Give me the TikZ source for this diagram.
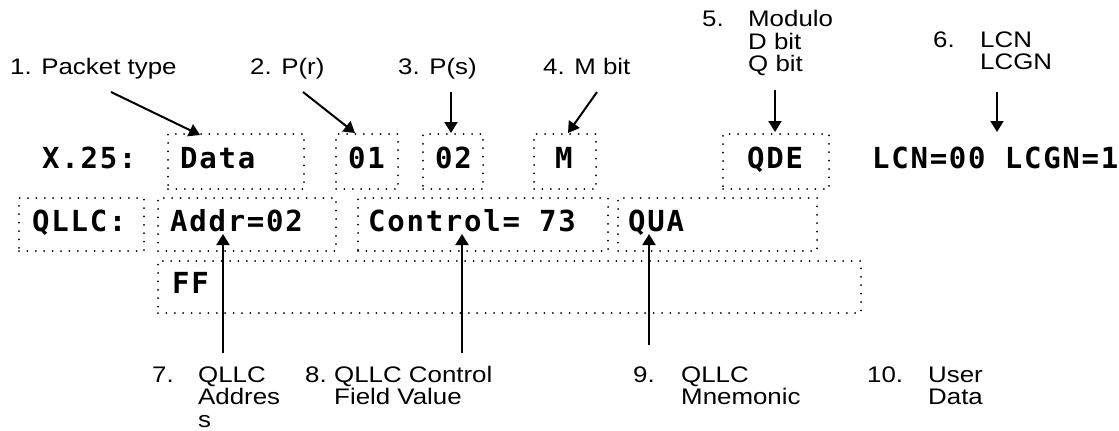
\documentclass[tikz,border=0pt]{standalone}
\usepackage{fontspec}
\setmainfont{Liberation Sans}[FakeStretch=1.15]
\newfontfamily\monob{DejaVu Sans Mono}[LetterSpace=6]
\usetikzlibrary{arrows.meta}
\begin{document}
\begin{tikzpicture}[x=1pt,y=-1pt,
  box/.style={draw, line width=2pt, dash pattern=on 0pt off 8.4pt, line cap=round, inner sep=0pt, anchor=north west},
  mono/.style={font=\monob\bfseries\fontsize{29}{29}\selectfont, inner sep=0pt, anchor=base west},
  lab/.style={font=\fontsize{22.5}{22.5}\selectfont, inner sep=0pt, anchor=base west},
  arr/.style={line width=2pt, -{Triangle[length=11pt,width=13pt]}}]
\useasboundingbox (0,0) rectangle (1119,431);
% boxes, X.25 row
\node[box, minimum width=136pt, minimum height=55pt] (bdata) at (167,133) {};
\node[box, minimum width=62pt, minimum height=55pt] (b01) at (335,133) {};
\node[box, minimum width=60pt, minimum height=55pt] (b02) at (422,133) {};
\node[box, minimum width=62pt, minimum height=55pt] (bm) at (533,133) {};
\node[box, minimum width=106pt, minimum height=55pt] (bqde) at (722,133) {};
% QLLC row
\node[box, minimum width=125pt, minimum height=53pt] (bqllc) at (18,197) {};
\node[box, minimum width=178pt, minimum height=53pt] (baddr) at (157,197) {};
\node[box, minimum width=250pt, minimum height=53pt] (bctrl) at (357,197) {};
\node[box, minimum width=199pt, minimum height=53pt] (bqua) at (617,197) {};
% FF row
\node[box, minimum width=703pt, minimum height=52pt] (bff) at (157,260) {};
% mono texts
\node[mono] (tx25) at (42,168) {X.25:};
\node[mono] (tdata) at (180,168) {Data};
\node[mono] (t01) at (348,168) {01};
\node[mono] (t02) at (435,168) {02};
\node[mono] (tm) at (555,168) {M};
\node[mono] (tqde) at (747,168) {QDE};
\node[mono] (tlcn) at (872,168) {LCN=00 LCGN=1};
\node[mono] (tqllc) at (32,231) {QLLC:};
\node[mono] (taddr) at (170,231) {Addr=02};
\node[mono] (tctrl) at (368,231) {Control= 73};
\node[mono] (tqua) at (628,231) {QUA};
\node[mono] (tff) at (172,293) {FF};
% top labels
\node[lab] (l1) at (10,74) {1. Packet type};
\node[lab] (l2) at (250,74) {2. P(r)};
\node[lab] (l3) at (398,74) {3. P(s)};
\node[lab] (l4) at (543,74) {4. M bit};
\node[lab] (l5) at (702,27) {\begin{tabular}[t]{@{}l@{}l@{}}\makebox[46pt][l]{5.}&\smash{Modulo}\\&\smash{D bit}\\&\smash{Q bit}\end{tabular}};
\node[lab] (l6) at (933,47) {\begin{tabular}[t]{@{}l@{}l@{}}\makebox[47pt][l]{6.}&\smash{LCN}\\&\smash{LCGN}\end{tabular}};
% bottom labels
\node[lab] (l7) at (152,382) {\begin{tabular}[t]{@{}l@{}l@{}}\makebox[46pt][l]{7.}&\smash{QLLC}\\&\smash{Addres}\\&\smash{s}\end{tabular}};
\node[lab] (l8) at (305,382) {\begin{tabular}[t]{@{}l@{}l@{}}\makebox[29pt][l]{8.}&\smash{QLLC Control}\\&\smash{Field Value}\end{tabular}};
\node[lab] (l9) at (633,382) {\begin{tabular}[t]{@{}l@{}l@{}}\makebox[48pt][l]{9.}&\smash{QLLC}\\&\smash{Mnemonic}\end{tabular}};
\node[lab] (l10) at (867,382) {\begin{tabular}[t]{@{}l@{}l@{}}\makebox[61pt][l]{10.}&\smash{User}\\&\smash{Data}\end{tabular}};
% arrow end points
\coordinate (a1s) at (111,92);  \coordinate (a1e) at (200,135);
\coordinate (a2s) at (303,92);  \coordinate (a2e) at (355,133);
\coordinate (a3s) at (451,92);  \coordinate (a3e) at (451,133);
\coordinate (a4s) at (597,92);  \coordinate (a4e) at (568,133);
\coordinate (a5s) at (775,90);  \coordinate (a5e) at (775,132);
\coordinate (a6s) at (997,92);  \coordinate (a6e) at (997,132);
\coordinate (a7s) at (223,353); \coordinate (a7e) at (223,234);
\coordinate (a8s) at (462,353); \coordinate (a8e) at (462,234);
\coordinate (a9s) at (649,345); \coordinate (a9e) at (649,234);
\foreach \i in {1,...,9} {\draw[arr] (a\i s) -- (a\i e);}
\end{tikzpicture}
\end{document}
